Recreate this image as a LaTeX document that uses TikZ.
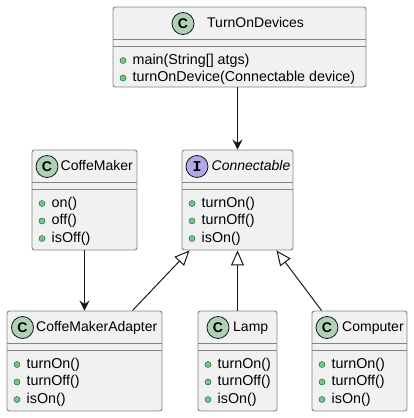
\documentclass[tikz,border=0pt]{standalone}
\usepackage{fontspec}
\setmainfont{Liberation Sans}
\newfontfamily\markmono{Liberation Mono}
\usetikzlibrary{arrows.meta,calc}

\definecolor{boxfill}{HTML}{F1F1F1}
\definecolor{boxline}{HTML}{858585}
\definecolor{classmark}{HTML}{ADD1B2}
\definecolor{ifacemark}{HTML}{B4A7E5}
\definecolor{dotfill}{HTML}{84BE84}
\definecolor{dotline}{HTML}{038048}
\definecolor{ink}{HTML}{181818}

\tikzset{
  classbox/.style={draw=boxline, fill=boxfill, line width=0.9pt, rounded corners=2.5pt, inner sep=0pt},
  sepline/.style={draw=boxline, line width=1pt},
  kindmark/.style={circle, draw=ink, line width=0.8pt, minimum size=22pt, inner sep=0pt},
  classkind/.style={fill=classmark, font=\fontsize{14}{14}\selectfont\bfseries, node contents={C}},
  ifacekind/.style={fill=ifacemark, font=\fontsize{15}{15}\selectfont\markmono\bfseries, node contents={I}},
  titletext/.style={anchor=west, inner sep=0pt, text height=10pt, text depth=3pt, font=\fontsize{14}{16}\selectfont},
  membertext/.style={anchor=west, inner sep=0pt, text height=10pt, text depth=3pt, font=\fontsize{14.3}{16}\selectfont},
  memberdot/.style={circle, fill=dotfill, draw=dotline, line width=0.5pt, minimum size=6pt, inner sep=0pt},
  uses/.style={draw=ink, line width=1pt, -{Stealth[length=10pt, width=10pt, inset=3.5pt]}},
  realizes/.style={draw=ink, line width=1pt, -{Triangle[open, length=15pt, width=13pt, fill=white]}},
}

% Keys describing one class box
\pgfqkeys{/uml}{
  left/.store in=\umlL, right/.store in=\umlR,
  top/.store in=\umlT, bottom/.store in=\umlB,
  mark/.store in=\umlM, text/.store in=\umlX,
  kind/.code={\tikzset{thiskind/.style={#1}}},
  title/.store in=\umlN, members/.store in=\umlP,
}

% \umlclass{name}{keys}: box, header, empty attribute row, member rows
\newcommand\umlclass[2]{%
  \begingroup
  \pgfqkeys{/uml}{#2}%
  \node[classbox, minimum width={\umlR-\umlL}, minimum height={\umlB-\umlT}]
    (#1) at ({(\umlL+\umlR)/2},{(\umlT+\umlB)/2}) {};
  \draw[sepline] (\umlL,\umlT+32) -- (\umlR,\umlT+32);
  \draw[sepline] (\umlL,\umlT+39) -- (\umlR,\umlT+39);
  \node (#1-kind) at (\umlM,\umlT+16.5) [kindmark, thiskind];
  \node[titletext] (#1-title) at (\umlX,\umlT+16.5) {\umlN};
  \foreach \m [count=\i] in \umlP {
    \pgfmathsetmacro\yy{\umlT+36+17.5*\i}
    \node[memberdot] (#1-dot\i) at (\umlL+10,\yy) {};
    \node[membertext] (#1-m\i) at (\umlL+19.5,\yy) {\m};
  }
  \endgroup
}

\begin{document}
\begin{tikzpicture}[x=1pt, y=-1pt]
  \useasboundingbox (0,0) rectangle (413,418);

  \umlclass{tod}{left=113, right=366, top=7, bottom=87, mark=183, text=207,
    kind=classkind, title=TurnOnDevices,
    members={main(String[] atgs), turnOnDevice(Connectable device)}}

  \umlclass{cm}{left=32, right=137, top=150, bottom=250, mark=47, text=60.5,
    kind=classkind, title=CoffeMaker,
    members={on(), off(), isOff()}}

  \umlclass{con}{left=182, right=293, top=150, bottom=250, mark=197, text=211.5,
    kind=ifacekind, title={\itshape Connectable},
    members={turnOn(), turnOff(), isOn()}}

  \umlclass{cma}{left=7, right=162, top=311, bottom=411, mark=22.5, text=36,
    kind=classkind, title=CoffeMakerAdapter,
    members={turnOn(), turnOff(), isOn()}}

  \umlclass{lamp}{left=198, right=277, top=311, bottom=411, mark=218, text=233,
    kind=classkind, title=Lamp,
    members={turnOn(), turnOff(), isOn()}}

  \umlclass{comp}{left=312, right=407, top=311, bottom=411, mark=327, text=342,
    kind=classkind, title=Computer,
    members={turnOn(), turnOff(), isOn()}}

  % dependencies
  \draw[uses] (tod.south -| con.north) -- (con.north);
  \draw[uses] (cm.south) -- (cm.south |- cma.north);

  % realisations of the interface
  \draw[realizes] ($(cma.north east)+(-30,0)$) -- ($(con.south west)+(8,0)$);
  \draw[realizes] (lamp.north) -- (lamp.north |- con.south);
  \draw[realizes] ($(comp.north west)+(10,0)$) -- ($(con.south east)+(-17,0)$);
\end{tikzpicture}
\end{document}
